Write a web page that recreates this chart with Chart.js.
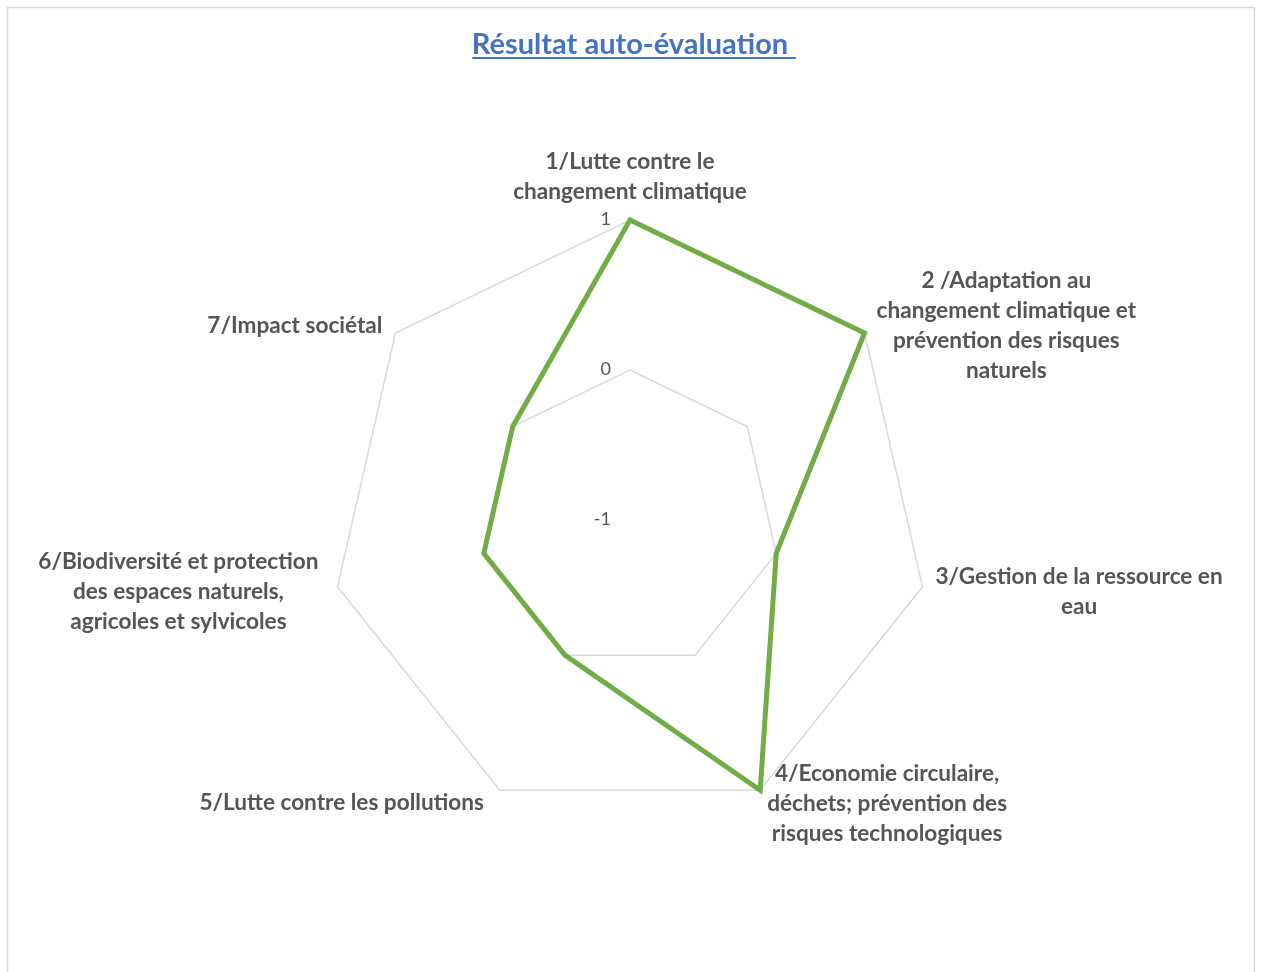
<!DOCTYPE html>
<html>
<head>
<meta charset="utf-8">
<script src="https://cdn.jsdelivr.net/npm/chart.js@4.4.1/dist/chart.umd.min.js"></script>
<style>
  html, body { margin: 0; padding: 0; background: #ffffff; }
  #wrap { width: 1261px; height: 972px; position: relative; }
</style>
</head>
<body>
<div id="wrap"><canvas id="c" width="1261" height="972"></canvas></div>
<script>
// ---- data ----
const chartTitle = 'Résultat auto-évaluation';
const categories = [
  ['1/Lutte contre le', 'changement climatique'],
  ['2 /Adaptation au', 'changement climatique et', 'prévention des risques', 'naturels'],
  ['3/Gestion de la ressource en', 'eau'],
  ['4/Economie circulaire,', 'déchets; prévention des', 'risques technologiques'],
  ['5/Lutte contre les pollutions'],
  ['6/Biodiversité et protection', 'des espaces naturels,', 'agricoles et sylvicoles'],
  ['7/Impact sociétal']
];
const scores = [1, 1, 0, 1, 0, 0, 0];
const tickValues = [-1, 0, 1];

// ---- styles ----
const FONT = 'Lato, "Open Sans", "Liberation Sans", sans-serif';
const labelColor = '#555555';
const labelSize = 22.6;
const labelLineH = 30;
const titleSize = 29;
// label placement relative to outer vertex: side, gap, vertical shift of block centre
const labelPlace = [
  {side: 'center', gap: 0, dy: -43.5},
  {side: 'left', gap: 12, dy: -7.5},
  {side: 'left', gap: 13, dy: 4.5},
  {side: 'left', gap: 7, dy: 13},
  {side: 'right', gap: 16, dy: 12},
  {side: 'right', gap: 19, dy: 4.5},
  {side: 'right', gap: 13, dy: -7.5}
];

const framePlugin = {
  id: 'frame',
  beforeDraw(chart) {
    const ctx = chart.ctx;
    ctx.save();
    ctx.fillStyle = '#ffffff';
    ctx.fillRect(0, 0, chart.width, chart.height);
    ctx.strokeStyle = '#d9d9d9';
    ctx.lineWidth = 1.5;
    ctx.strokeRect(7.5, 7.5, 1247, 1000);
    ctx.restore();
  }
};

const labelsPlugin = {
  id: 'customLabels',
  afterDraw(chart) {
    const ctx = chart.ctx;
    const scale = chart.scales.r;
    ctx.save();
    // tick labels
    ctx.font = '18px ' + FONT;
    ctx.fillStyle = labelColor;
    ctx.textAlign = 'right';
    ctx.textBaseline = 'middle';
    tickValues.forEach(v => {
      const d = scale.getDistanceFromCenterForValue(v);
      ctx.fillText(String(v), scale.xCenter - 19, scale.yCenter - d - 1);
    });
    // point labels
    ctx.font = 'bold ' + labelSize + 'px ' + FONT;
    ctx.textAlign = 'center';
    chart.data.labels.forEach((lines, i) => {
      const p = scale.getPointPosition(i, scale.drawingArea);
      const pl = labelPlace[i];
      const w = Math.max(...lines.map(l => ctx.measureText(l).width));
      let cx;
      if (pl.side === 'left') cx = p.x + pl.gap + w / 2;
      else if (pl.side === 'right') cx = p.x - pl.gap - w / 2;
      else cx = p.x;
      const cy = p.y + pl.dy;
      const top = cy - (lines.length - 1) * labelLineH / 2;
      lines.forEach((l, k) => ctx.fillText(l, cx, top + k * labelLineH));
    });
    // title underline
    const tb = chart.titleBlock;
    const tf = tb.options.font;
    ctx.font = 'bold ' + tf.size + 'px ' + FONT;
    const tw = ctx.measureText(chartTitle + ' ').width;
    const tx = chart.width / 2 - ctx.measureText(chartTitle).width / 2;
    const ty = tb.top + tb.options.padding.top + tf.size * 1.2 / 2 + tf.size * 0.45;
    ctx.strokeStyle = '#4472C4';
    ctx.lineWidth = 2;
    ctx.beginPath();
    ctx.moveTo(tx, ty);
    ctx.lineTo(tx + tw, ty);
    ctx.stroke();
    ctx.restore();
  }
};

new Chart(document.getElementById('c'), {
  type: 'radar',
  data: {
    labels: categories,
    datasets: [{
      data: scores,
      borderColor: '#70AD47',
      borderWidth: 5,
      borderJoinStyle: 'miter',
      fill: false,
      pointRadius: 0,
      pointHoverRadius: 0,
      tension: 0
    }]
  },
  options: {
    responsive: false,
    devicePixelRatio: 1,
    animation: false,
    layout: { padding: { left: 0, right: 1, top: 0, bottom: 152 } },
    plugins: {
      legend: { display: false },
      tooltip: { enabled: false },
      title: {
        display: true,
        text: chartTitle,
        color: '#4472C4',
        font: { family: FONT, size: titleSize, weight: 'bold', lineHeight: 1.2 },
        padding: { top: 27.6, bottom: 157.6 }
      }
    },
    scales: {
      r: {
        min: -1,
        max: 1,
        ticks: { display: false, stepSize: 1 },
        grid: { color: '#d9d9d9', lineWidth: 1.5 },
        angleLines: { display: false },
        pointLabels: { display: false }
      }
    }
  },
  plugins: [framePlugin, labelsPlugin]
});
</script>
</body>
</html>
